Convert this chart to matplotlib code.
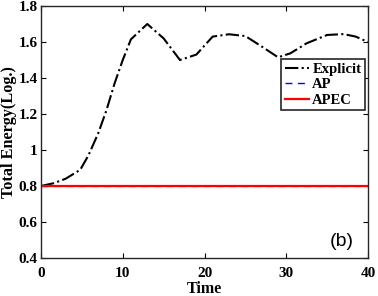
import matplotlib
matplotlib.use("Agg")
import matplotlib.pyplot as plt
import numpy as np

# data
time_explicit = [0, 1.5, 3, 4.8, 5.8, 7, 8, 9, 10, 11, 13, 15, 17, 18, 19, 21, 23, 25, 27, 29, 30.5, 32.5, 35, 37, 38.5, 40]
energy_explicit = [0.80, 0.815, 0.84, 0.89, 0.97, 1.093, 1.22, 1.37, 1.50, 1.615, 1.70, 1.62, 1.50, 1.515, 1.53, 1.63, 1.643, 1.633, 1.575, 1.515, 1.537, 1.593, 1.639, 1.644, 1.63, 1.60]
time_flat = [0, 40]
energy_ap = [0.798, 0.798]
energy_apec = [0.8, 0.8]

plt.rcParams["font.family"] = ["Liberation Serif", "DejaVu Serif"]
plt.rcParams["font.weight"] = "bold"

fig = plt.figure(figsize=(3.78, 2.96), dpi=100)
ax = fig.add_axes([41 / 378, 38 / 296, 327 / 378, 252 / 296])

ax.plot(time_explicit, energy_explicit, color="k", ls="-.", lw=1.5, label="Explicit")
ax.plot(time_flat, energy_ap, color="b", ls=(0, (5, 4)), lw=1.0, alpha=0.6, label="AP")
ax.plot(time_flat, energy_apec, color="r", ls="-", lw=1.6, label="APEC")

ax.set_xlim(0, 40)
ax.set_ylim(0.4, 1.8)
ax.set_xticks([0, 10, 20, 30, 40])
ax.set_yticks([0.4, 0.6, 0.8, 1.0, 1.2, 1.4, 1.6, 1.8])
ax.set_yticklabels(["0.4", "0.6", "0.8", "1", "1.2", "1.4", "1.6", "1.8"])
ax.tick_params(direction="in", top=True, right=True, labelsize=11, length=3.5, width=0.8, pad=2.5)
ax.tick_params(axis="x", pad=6.5)
for s in ax.spines.values():
    s.set_linewidth(1.0)
    s.set_color("#262626")

ax.set_xlabel("Time", fontsize=11.5, fontweight="bold", labelpad=1)
ax.set_ylabel("Total Energy(Log.)", fontsize=11.7, fontweight="bold", labelpad=1)

leg = ax.legend(loc="upper right", bbox_to_anchor=(365 / 378, 1 - 59 / 296),
                bbox_transform=fig.transFigure, fontsize=10.5,
                frameon=True, fancybox=False, edgecolor="#262626", framealpha=1,
                handlelength=1.7, handletextpad=0.2, borderpad=0.25, labelspacing=0.15,
                borderaxespad=0)
leg.get_frame().set_linewidth(1.2)
leg.get_lines()[1].set_alpha(1.0)

ax.text(0.955, 0.03, "(b)", transform=ax.transAxes, ha="right", va="bottom",
        fontsize=14, fontweight="normal", family="Liberation Sans")

fig.savefig("out.png", dpi=100)
